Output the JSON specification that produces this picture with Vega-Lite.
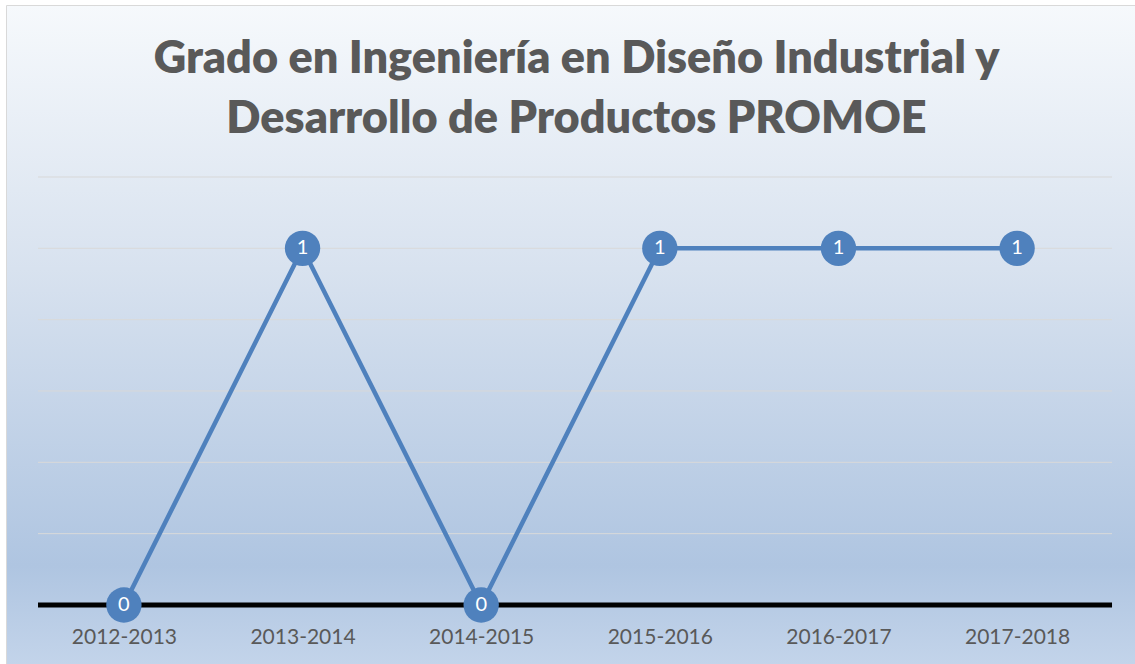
{
  "$schema": "https://vega.github.io/schema/vega-lite/v6.json",
  "width": 1129,
  "height": 659,
  "autosize": {"type": "none"},
  "padding": {"left": 6, "top": 5, "right": 0, "bottom": 0},
  "background": "white",
  "config": {
    "font": "Lato",
    "view": {
      "stroke": "#d9d9d9",
      "strokeWidth": 1,
      "fill": {
        "gradient": "linear",
        "x1": 0, "y1": 0, "x2": 0, "y2": 1,
        "stops": [
          {"offset": 0, "color": "#f6f9fc"},
          {"offset": 0.4, "color": "#d8e2ef"},
          {"offset": 0.85, "color": "#afc5e1"},
          {"offset": 1, "color": "#c3d4ea"}
        ]
      }
    }
  },
  "title": {
    "text": ["Grado en Ingeniería en Diseño Industrial y", "Desarrollo de Productos PROMOE"],
    "font": "Lato",
    "fontSize": 45,
    "fontWeight": 800,
    "color": "#595959",
    "lineHeight": 60,
    "offset": -137,
    "anchor": "middle",
    "dx": 6
  },
  "datasets": {
    "main": [
      {"year": "2012-2013", "value": 0},
      {"year": "2013-2014", "value": 1},
      {"year": "2014-2015", "value": 0},
      {"year": "2015-2016", "value": 1},
      {"year": "2016-2017", "value": 1},
      {"year": "2017-2018", "value": 1}
    ],
    "grid": [
      {"v": 0.2}, {"v": 0.4}, {"v": 0.6}, {"v": 0.8}, {"v": 1.0}, {"v": 1.2}
    ],
    "base": [{"v": 0}]
  },
  "resolve": {"scale": {"x": "independent"}},
  "layer": [
    {
      "data": {"name": "grid"},
      "mark": {"type": "rule", "color": "#d9d9d9", "strokeWidth": 1},
      "encoding": {
        "y": {"field": "v", "type": "quantitative", "scale": {"domain": [-0.1654, 1.6822], "nice": false, "zero": false}, "axis": null},
        "x": {"datum": 0, "type": "quantitative", "scale": {"domain": [-0.0298, 1.0214], "nice": false, "zero": false}, "axis": null},
        "x2": {"datum": 1}
      }
    },
    {
      "data": {"name": "base"},
      "mark": {"type": "rule", "color": "#000000", "strokeWidth": 5},
      "encoding": {
        "y": {"field": "v", "type": "quantitative", "scale": {"domain": [-0.1654, 1.6822], "nice": false, "zero": false}, "axis": null},
        "x": {"datum": 0, "type": "quantitative", "scale": {"domain": [-0.0298, 1.0214], "nice": false, "zero": false}, "axis": null},
        "x2": {"datum": 1}
      }
    },
    {
      "data": {"name": "main"},
      "layer": [
        {
          "mark": {"type": "line", "color": "#4f81bd", "strokeWidth": 4.5},
          "encoding": {
            "x": {
              "field": "year", "type": "ordinal", "sort": null,
              "scale": {"type": "point", "padding": 0.66},
              "axis": {
                "title": null, "orient": "bottom", "offset": -38,
                "domain": false, "ticks": false, "tickSize": 0, "grid": false,
                "labelPadding": 0, "labelAngle": 0,
                "labelFont": "Lato", "labelFontSize": 21, "labelColor": "#595959"
              }
            },
            "y": {"field": "value", "type": "quantitative", "scale": {"domain": [-0.1654, 1.6822], "nice": false, "zero": false}, "axis": null}
          }
        },
        {
          "mark": {"type": "circle", "color": "#4f81bd", "opacity": 1, "size": 1250},
          "encoding": {
            "x": {"field": "year", "type": "ordinal", "sort": null},
            "y": {"field": "value", "type": "quantitative"}
          }
        },
        {
          "mark": {"type": "text", "color": "white", "font": "Lato", "fontSize": 20, "baseline": "middle", "align": "center"},
          "encoding": {
            "x": {"field": "year", "type": "ordinal", "sort": null},
            "y": {"field": "value", "type": "quantitative"},
            "text": {"field": "value", "type": "quantitative"}
          }
        }
      ]
    }
  ]
}
